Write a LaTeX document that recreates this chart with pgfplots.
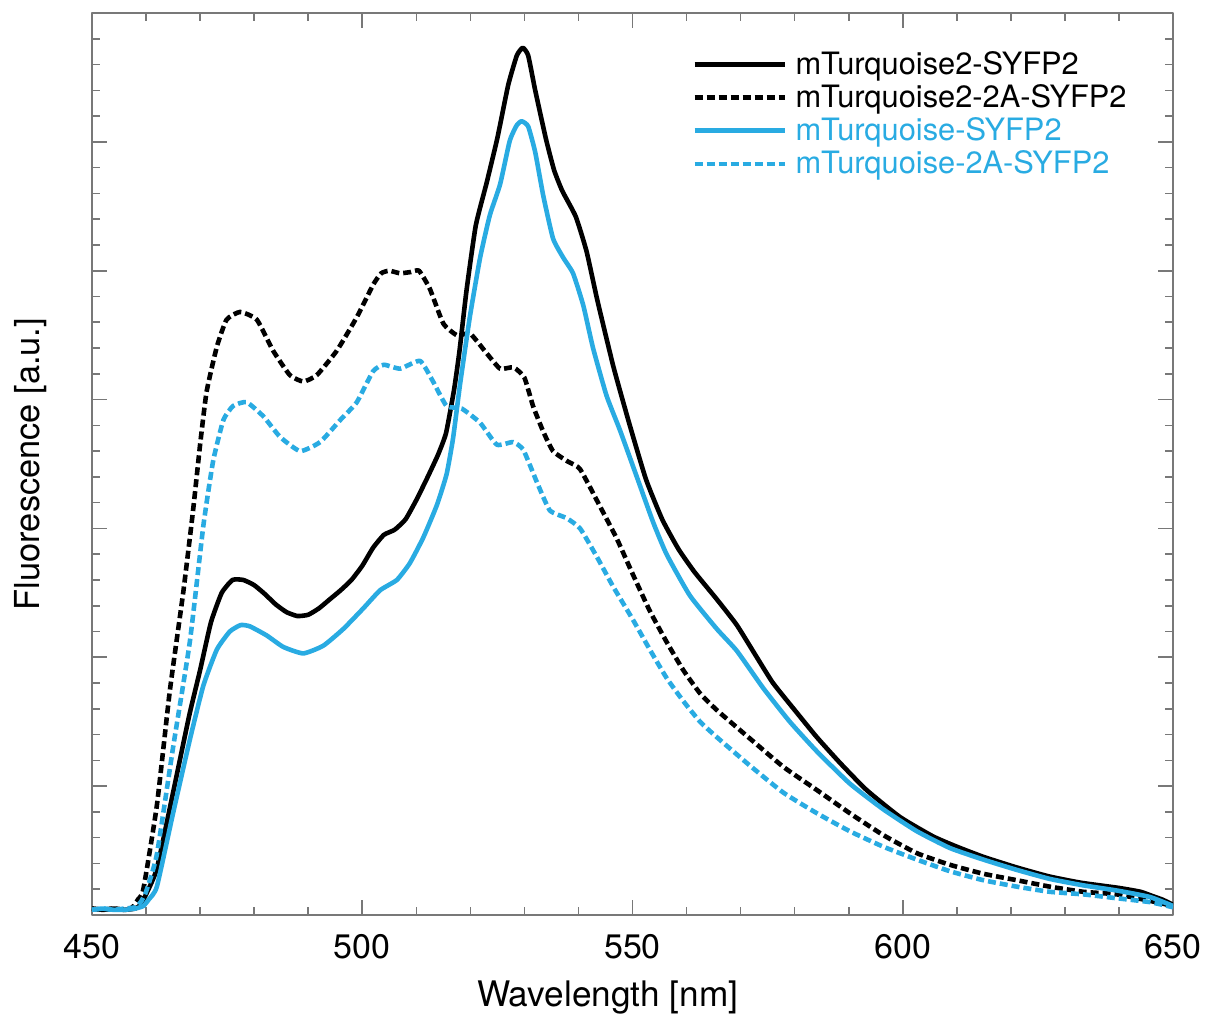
\documentclass[border=0pt]{standalone}
\usepackage{fontspec}
\setmainfont{TeX Gyre Heros}
\usepackage{pgfplots}
\pgfplotsset{compat=1.18}
\definecolor{tq}{RGB}{41,171,226}
\definecolor{axgray}{RGB}{120,120,120}
\begin{document}
\begin{tikzpicture}
\begin{axis}[
 scale only axis, width=540.5pt, height=451pt,
 xmin=450, xmax=650, ymin=0, ymax=7,
 xtick={450,500,...,650}, minor x tick num=4,
 ytick={0,...,7}, minor y tick num=4, yticklabels={},
 tick align=inside, major tick length=7.5pt, minor tick length=4pt,
 axis line style={axgray, line width=0.8pt},
 every tick/.style={axgray, line width=0.8pt},
 tick label style={font=\fontsize{17}{20}\selectfont},
 /pgf/number format/assume math mode=true,
 xticklabel style={yshift=-6pt},
 xlabel={Wavelength [nm]}, ylabel={Fluorescence [a.u.]},
 every axis x label/.style={at={(axis description cs:0.477,-0.102)}, anchor=base, font=\fontsize{17.6}{20}\selectfont},
 every axis y label/.style={at={(axis description cs:-0.035,0.5)}, rotate=90, anchor=south, font=\fontsize{17.2}{20}\selectfont},
 legend style={draw=none, fill=none, at={(axis description cs:0.555,0.962)}, anchor=north west,
   font=\fontsize{15.4}{17}\selectfont, inner sep=0pt, nodes={inner sep=1.8pt}},
 legend cell align=left,
 legend image code/.code={\draw[#1] (0pt,0pt) -- (45pt,0pt); \path (47.5pt,0pt);},
 line join=round,
]
\addplot[black, line width=2.3pt, smooth, tension=0.3] coordinates {
(450,0.05)(452,0.04)(454,0.05)(456,0.04)(458,0.05)(459,0.08)(460,0.16)(462,0.36)(465,0.95)(468,1.55)(470,1.90)(472,2.27)(474,2.50)(476,2.60)(478,2.60)(480,2.56)(482,2.49)(484,2.41)(486,2.35)(488,2.32)(490,2.33)(492,2.38)(494,2.45)(496,2.52)(498,2.60)(500,2.71)(502,2.85)(504,2.95)(506,2.99)(508,3.07)(510,3.22)(512,3.39)(514,3.57)(515.5,3.74)(517,4.08)(518,4.38)(519.3,4.85)(521,5.35)(523,5.68)(525,6.03)(527,6.44)(528.6,6.67)(529.7,6.73)(530.7,6.67)(532,6.40)(534,6.02)(535.5,5.78)(537,5.62)(539.5,5.42)(541.5,5.15)(543.5,4.77)(546.5,4.25)(549.5,3.80)(552.5,3.38)(555.5,3.07)(558.5,2.84)(561.5,2.66)(565.6,2.45)(569.3,2.25)(573,2.00)(576,1.80)(580.4,1.57)(584.1,1.38)(588.4,1.18)(593.3,0.97)(599.5,0.76)(605.6,0.61)(610,0.53)(615,0.45)(621,0.37)(627,0.30)(633,0.25)(640,0.21)(644,0.18)(646,0.15)(648,0.12)(650,0.08)
};
\addlegendentry{mTurquoise2-SYFP2}
\addplot[black, line width=2.3pt, dash pattern=on 4pt off 2pt, smooth, tension=0.3] coordinates {
(450,0.05)(452,0.04)(454,0.05)(456,0.04)(457.5,0.06)(458.5,0.12)(459.5,0.20)(462,0.85)(464.4,1.74)(466.9,2.51)(468.7,3.14)(470,3.65)(471.2,4.06)(473.1,4.41)(474.9,4.62)(477.4,4.68)(480.5,4.62)(483.5,4.38)(486.6,4.19)(489.1,4.14)(491.6,4.19)(495.3,4.38)(499,4.64)(502,4.89)(503.5,4.98)(505,5.0)(507,4.98)(509,4.99)(510.5,5.0)(512.5,4.86)(515,4.59)(517.5,4.50)(520,4.51)(523,4.36)(525.5,4.24)(528,4.25)(530,4.17)(531.6,3.95)(533.5,3.75)(535.3,3.60)(538,3.52)(540.3,3.46)(544,3.17)(547.1,2.92)(550.1,2.64)(553.2,2.36)(556.3,2.12)(559.4,1.90)(562.5,1.72)(565.6,1.59)(571.7,1.37)(577.9,1.15)(584.1,0.97)(590.2,0.79)(596.4,0.62)(602.6,0.48)(608.7,0.39)(614.9,0.32)(621.1,0.27)(627.2,0.22)(633.4,0.18)(639.6,0.16)(645.7,0.11)(650,0.07)
};
\addlegendentry{mTurquoise2-2A-SYFP2}
\addplot[tq, line width=2.3pt, smooth, tension=0.3] coordinates {
(450,0.04)(452,0.05)(454,0.04)(456,0.04)(458,0.05)(459.5,0.07)(460.5,0.12)(462,0.22)(465,0.79)(468.1,1.36)(470.6,1.78)(473.1,2.06)(475.5,2.20)(477.5,2.25)(479.2,2.24)(482.3,2.17)(485.4,2.08)(489.1,2.03)(492.8,2.09)(496.5,2.22)(500.2,2.38)(503.3,2.52)(506.4,2.60)(508.8,2.73)(511.3,2.93)(513.8,3.18)(515.6,3.42)(516.8,3.70)(518.1,4.12)(519.9,4.64)(521.8,5.10)(523.6,5.43)(525.5,5.67)(527.3,6.01)(528.6,6.13)(529.5,6.16)(530.7,6.12)(532,5.92)(533.5,5.58)(535.3,5.25)(537.2,5.10)(539,4.98)(540.9,4.73)(542.7,4.40)(545.2,4.03)(547.7,3.76)(550.8,3.40)(553.8,3.05)(556.3,2.80)(560.6,2.48)(565.6,2.22)(569.3,2.05)(574.2,1.76)(579.1,1.50)(584.1,1.27)(590.2,1.02)(596.4,0.82)(602.6,0.65)(608.7,0.52)(614.9,0.43)(621.1,0.35)(627.2,0.28)(633.4,0.23)(639.6,0.19)(645.7,0.14)(650,0.07)
};
\addlegendentry{\textcolor{tq}{mTurquoise-SYFP2}}
\addplot[tq, line width=2.3pt, dash pattern=on 4pt off 2pt, smooth, tension=0.3] coordinates {
(450,0.04)(452,0.05)(454,0.04)(456,0.05)(458,0.06)(459,0.10)(460,0.18)(462,0.47)(465,1.30)(468.1,2.12)(470.6,3.02)(472.4,3.52)(474.3,3.84)(476.1,3.95)(478.6,3.98)(481.7,3.87)(484.8,3.71)(488.5,3.60)(492.2,3.67)(495.9,3.84)(499,3.98)(502,4.22)(504,4.27)(507,4.24)(510.7,4.30)(513.1,4.14)(515.6,3.95)(518.4,3.93)(521.8,3.82)(524.9,3.65)(527.9,3.67)(529.8,3.61)(532.3,3.36)(534.7,3.14)(537.8,3.08)(540.3,3.00)(543.4,2.78)(546.4,2.55)(550.1,2.29)(553.2,2.06)(556.3,1.84)(559.4,1.66)(562.5,1.50)(565.6,1.38)(571.7,1.16)(577.9,0.95)(584.1,0.79)(590.2,0.65)(596.4,0.53)(602.6,0.43)(608.7,0.34)(614.9,0.27)(621.1,0.22)(627.2,0.18)(633.4,0.16)(639.6,0.13)(645.7,0.10)(650,0.06)
};
\addlegendentry{\textcolor{tq}{mTurquoise-2A-SYFP2}}
\end{axis}
\path ([shift={(-46pt,-52pt)}]current axis.south west) rectangle ([shift={(21.5pt,6.5pt)}]current axis.north east);
\end{tikzpicture}
\end{document}
